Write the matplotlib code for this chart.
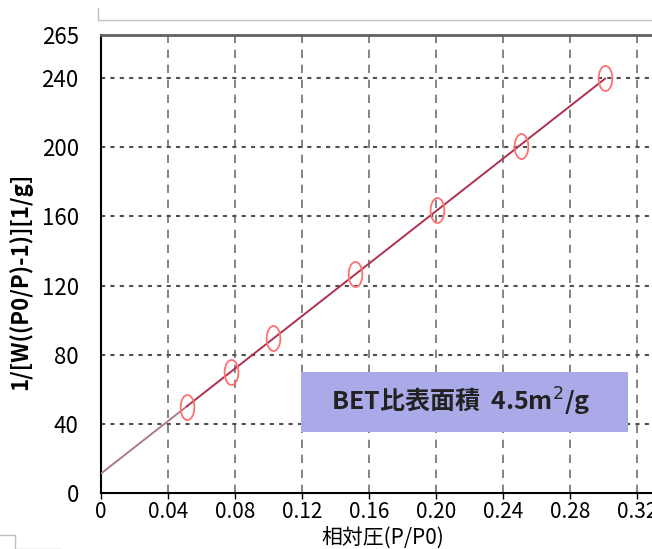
import numpy as np
import matplotlib.pyplot as plt
from matplotlib.path import Path
from matplotlib.lines import Line2D
from matplotlib.patches import Rectangle

plt.rcParams['font.family'] = ['Noto Sans CJK JP', 'DejaVu Sans']

# データ (相対圧, 1/[W((P0/P)-1)])
p_rel = [0.0513, 0.0776, 0.1027, 0.1516, 0.2006, 0.2507, 0.301]
bet_y = [49.8, 70.0, 89.7, 126.7, 163.8, 200.8, 240.0]

x_ticks = [0, 0.04, 0.08, 0.12, 0.16, 0.20, 0.24, 0.28, 0.32]
x_labels = ['0', '0.04', '0.08', '0.12', '0.16', '0.20', '0.24', '0.28', '0.32']
y_ticks = [0, 40, 80, 120, 160, 200, 240, 265]
bet_text = 'BET比表面積  4.5m$^{2}$/g'

# 直線回帰
slope, intercept = np.polyfit(p_rel, bet_y, 1)

# 縦長の楕円マーカー
t = np.linspace(0, 2 * np.pi, 40)
ellipse = Path(np.column_stack((0.55 * np.cos(t), np.sin(t))))

fig = plt.figure(figsize=(6.52, 5.49), dpi=100)
ax = fig.add_axes([0.1549, 0.102, 0.8451, 0.8342])

xfit = np.array([0, p_rel[0]])
ax.plot(xfit, slope * xfit + intercept, color='#b07888', lw=1.4, zorder=3)
xfit = np.array([p_rel[0], p_rel[-1]])
ax.plot(xfit, slope * xfit + intercept, color='#b0304e', lw=1.4, zorder=3)
ax.plot(p_rel, bet_y, linestyle='none', marker=ellipse, ms=18, mfc='none',
        mec='#ff7070', mew=1.3, zorder=4)

ax.set_xlim(0, 0.329)
ax.set_ylim(0, 265)
ax.set_xticks(x_ticks)
ax.set_xticklabels(x_labels)
ax.set_yticks(y_ticks)
ax.tick_params(axis='x', direction='out', length=4, width=1, labelsize=15, pad=2)
ax.tick_params(axis='y', length=0, labelsize=16, pad=16)

for v in x_ticks[1:]:
    ax.axvline(v, color='#707070', lw=1.2, ls=(0, (5, 4)), zorder=1)
for v in y_ticks[1:-1]:
    ax.axhline(v, color='#505050', lw=1.5, ls=(0, (2, 2.5)), zorder=1)

ax.spines['right'].set_visible(False)
ax.spines['top'].set_color('#606060')
ax.spines['top'].set_linewidth(2)
ax.spines['left'].set_linewidth(1.5)
ax.spines['bottom'].set_linewidth(1.5)

ax.set_xlabel('相対圧(P/P0)', fontsize=15)
ax.xaxis.set_label_coords(0.512, -0.073)
ax.set_ylabel('1/[W((P0/P)-1)][1/g]', fontsize=16, fontweight='bold')
ax.yaxis.set_label_coords(-0.125, 0.463)

# BET比表面積の枠
ax.add_patch(Rectangle((0.363, 0.133), 0.593, 0.131, transform=ax.transAxes,
                       fc='#aaaae8', ec='none', zorder=5))
ax.text(0.652, 0.198, bet_text, transform=ax.transAxes, ha='center', va='center',
        fontsize=18, fontweight='bold', color='#222222', zorder=6)

# 上部と左下の細い枠線
fig.add_artist(Line2D([98 / 652, 1], [1 - 20 / 549, 1 - 20 / 549], color='#c0c0c0', lw=1))
fig.add_artist(Line2D([98 / 652, 98 / 652], [1 - 20 / 549, 1 - 8 / 549], color='#c0c0c0', lw=1))
fig.add_artist(Line2D([0, 15 / 652, 15 / 652, 60 / 652], [1 - 535 / 549, 1 - 535 / 549, 1 - 549 / 549, 1 - 549 / 549], color='#c0c0c0', lw=1))

fig.savefig('out.png', dpi=100)
